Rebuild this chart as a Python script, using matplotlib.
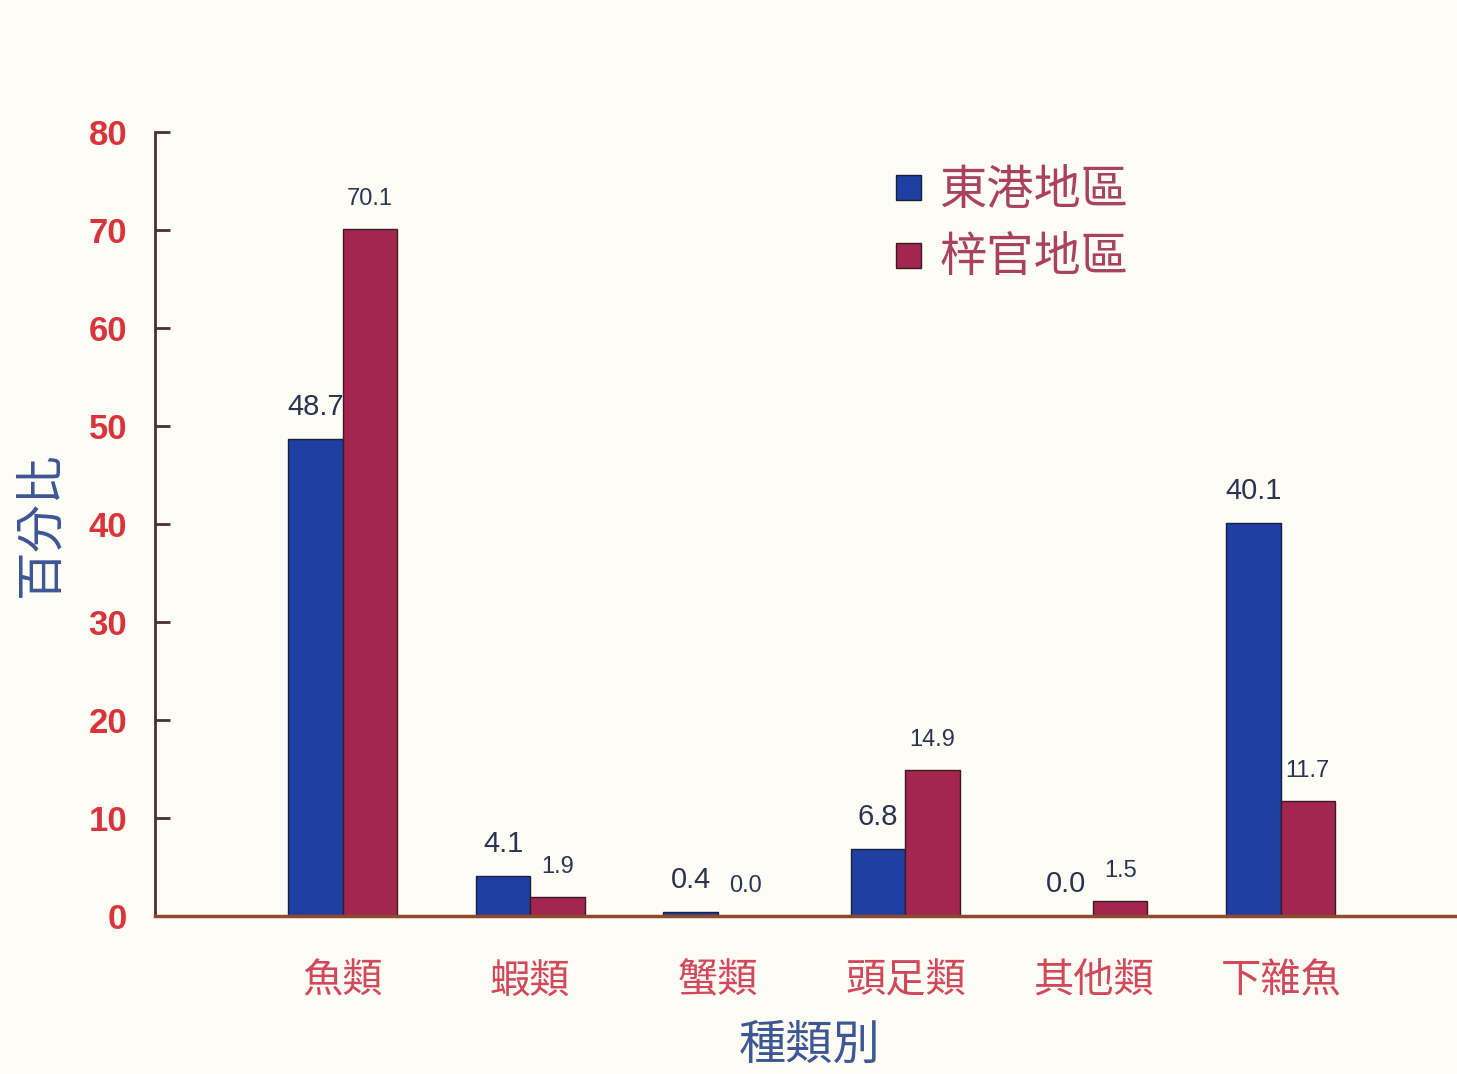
import matplotlib
matplotlib.use("Agg")
import matplotlib.pyplot as plt
from matplotlib.lines import Line2D
import numpy as np

categories = ["魚類", "蝦類", "蟹類", "頭足類", "其他類", "下雜魚"]
donggang = [48.7, 4.1, 0.4, 6.8, 0.0, 40.1]
ziguan = [70.1, 1.9, 0.0, 14.9, 1.5, 11.7]
series_names = ["東港地區", "梓官地區"]
yticks = [0, 10, 20, 30, 40, 50, 60, 70, 80]

CJK = ["Noto Sans CJK TC", "DejaVu Sans"]
NUM = ["Liberation Sans", "DejaVu Sans"]

bg = "#fdfcf5"
blue = "#1f3fa3"
red = "#a2264f"
tick_red = "#d8343c"
cat_red = "#d0485a"
label_blue = "#3d5694"
val_col = "#2b3352"

fig = plt.figure(figsize=(14.57, 10.74), dpi=100, facecolor=bg)
ax = fig.add_axes([155/1457, 1-916/1074, 1-155/1457, (916-132)/1074], facecolor=bg)

x = np.arange(len(categories))
w = 0.29
ax.bar(x - w/2, donggang, w, color=blue, edgecolor="#1a1f40", linewidth=1.0, zorder=2)
ax.bar(x + w/2, ziguan, w, color=red, edgecolor="#3a1a25", linewidth=1.0, zorder=2)

for xi, v in zip(x - w/2, donggang):
    ax.annotate(f"{v:.1f}", (xi, v), xytext=(0, 13), textcoords="offset points",
                ha="center", va="bottom", fontsize=21, color=val_col, family=NUM)
for xi, v in zip(x + w/2, ziguan):
    ax.annotate(f"{v:.1f}", (xi, v), xytext=(0, 14), textcoords="offset points",
                ha="center", va="bottom", fontsize=17, color=val_col, family=NUM)

ax.set_xlim(-1.0, 5.94)
ax.set_ylim(0, 80)
ax.set_yticks(yticks)
ax.set_yticklabels([str(t) for t in yticks], family=NUM, fontsize=25, fontweight="bold", color=tick_red)
ax.tick_params(axis="y", direction="in", length=11, width=2, color="#4a3034", pad=20)
ax.set_xticks(x)
ax.set_xticklabels(categories, family=CJK, fontsize=29, color=cat_red)
ax.tick_params(axis="x", length=0, pad=32)

for s in ["top", "right"]:
    ax.spines[s].set_visible(False)
ax.spines["left"].set_color("#4a3034")
ax.spines["left"].set_linewidth(2)
ax.spines["bottom"].set_color("#8e4a2c")
ax.spines["bottom"].set_linewidth(2.5)

ax.set_xlabel("種類別", family=CJK, fontsize=34, color=label_blue)
ax.xaxis.set_label_coords(0.503, -0.134)
ax.set_ylabel("百分比", family=CJK, fontsize=35, color=label_blue)
ax.yaxis.set_label_coords(-0.069, 0.5)

handles = [Line2D([], [], marker="s", linestyle="none", markersize=18, markerfacecolor=blue,
                  markeredgecolor="#1a1f40", markeredgewidth=1.0),
           Line2D([], [], marker="s", linestyle="none", markersize=18, markerfacecolor=red,
                  markeredgecolor="#3a1a25", markeredgewidth=1.0)]
leg = ax.legend(handles, series_names, loc="upper left", bbox_to_anchor=(847/1457, 1-124/1074),
                bbox_transform=fig.transFigure, frameon=False, handlelength=0.8, handletextpad=0.25,
                labelspacing=0.4, prop={"family": CJK, "size": 34})
for t in leg.get_texts():
    t.set_color("#a8425e")

fig.savefig("out.png", dpi=100, facecolor=bg)
